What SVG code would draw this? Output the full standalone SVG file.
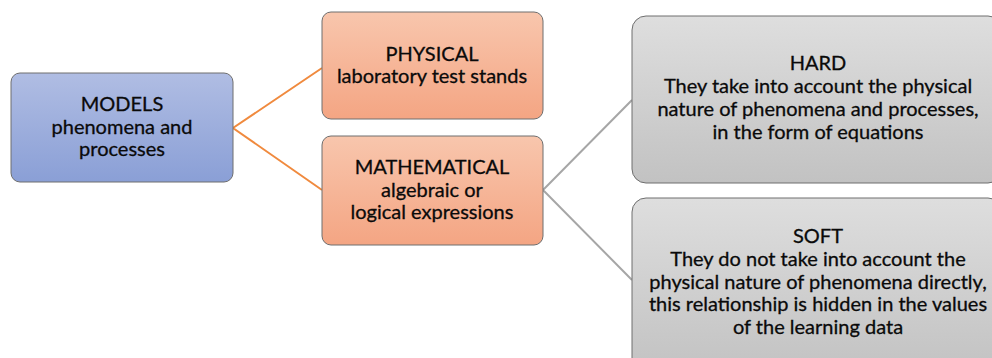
<svg xmlns="http://www.w3.org/2000/svg" width="992" height="358" viewBox="0 0 992 358">
<defs>
<linearGradient id="gBlue" x1="0" y1="0" x2="0" y2="1"><stop offset="0" stop-color="#b0bde3"/><stop offset="1" stop-color="#8a9fd6"/></linearGradient>
<linearGradient id="gOrange" x1="0" y1="0" x2="0" y2="1"><stop offset="0" stop-color="#f8c6ad"/><stop offset="1" stop-color="#f4a583"/></linearGradient>
<linearGradient id="gGray" x1="0" y1="0" x2="0" y2="1"><stop offset="0" stop-color="#dedede"/><stop offset="1" stop-color="#c2c2c2"/></linearGradient>
<style>
.box{stroke:#6e6e6e;stroke-width:1}
.t{font-family:Lato,"Liberation Sans",sans-serif;font-size:20px;fill:#0a0a0a;stroke:#0a0a0a;stroke-width:0.3;text-anchor:middle}
.co{stroke:#f08a3e;stroke-width:2;fill:none}
.cg{stroke:#a6a6a6;stroke-width:2;fill:none}
</style>
</defs>
<rect width="992" height="358" fill="#ffffff"/>
<g id="connectors">
<polyline class="co" points="322,68 233,128 322,190"/>
<polyline class="cg" points="632,100 543,190 632,280"/>
</g>
<g id="models">
<rect class="box" x="11" y="73" width="222" height="109" rx="9" fill="url(#gBlue)"/>
<text class="t" x="122" y="111">MODELS</text>
<text class="t" x="122" y="134">phenomena and</text>
<text class="t" x="122" y="156">processes</text>
</g>
<g id="physical">
<rect class="box" x="322" y="12" width="221" height="107" rx="9" fill="url(#gOrange)"/>
<text class="t" x="432" y="61">PHYSICAL</text>
<text class="t" x="432" y="83">laboratory test stands</text>
</g>
<g id="mathematical">
<rect class="box" x="322" y="136" width="221" height="109" rx="9" fill="url(#gOrange)"/>
<text class="t" x="432" y="174">MATHEMATICAL</text>
<text class="t" x="432" y="197">algebraic or</text>
<text class="t" x="432" y="219">logical expressions</text>
</g>
<g id="hard">
<rect class="box" x="632" y="16" width="370" height="167" rx="14" fill="url(#gGray)"/>
<text class="t" x="818" y="70">HARD</text>
<text class="t" x="818" y="93">They take into account the physical</text>
<text class="t" x="818" y="116">nature of phenomena and processes,</text>
<text class="t" x="818" y="139">in the form of equations</text>
</g>
<g id="soft">
<rect class="box" x="632" y="198" width="370" height="175" rx="14" fill="url(#gGray)"/>
<text class="t" x="818" y="243">SOFT</text>
<text class="t" x="818" y="266">They do not take into account the</text>
<text class="t" x="818" y="289">physical nature of phenomena directly,</text>
<text class="t" x="818" y="311">this relationship is hidden in the values</text>
<text class="t" x="818" y="334">of the learning data</text>
</g>
</svg>
